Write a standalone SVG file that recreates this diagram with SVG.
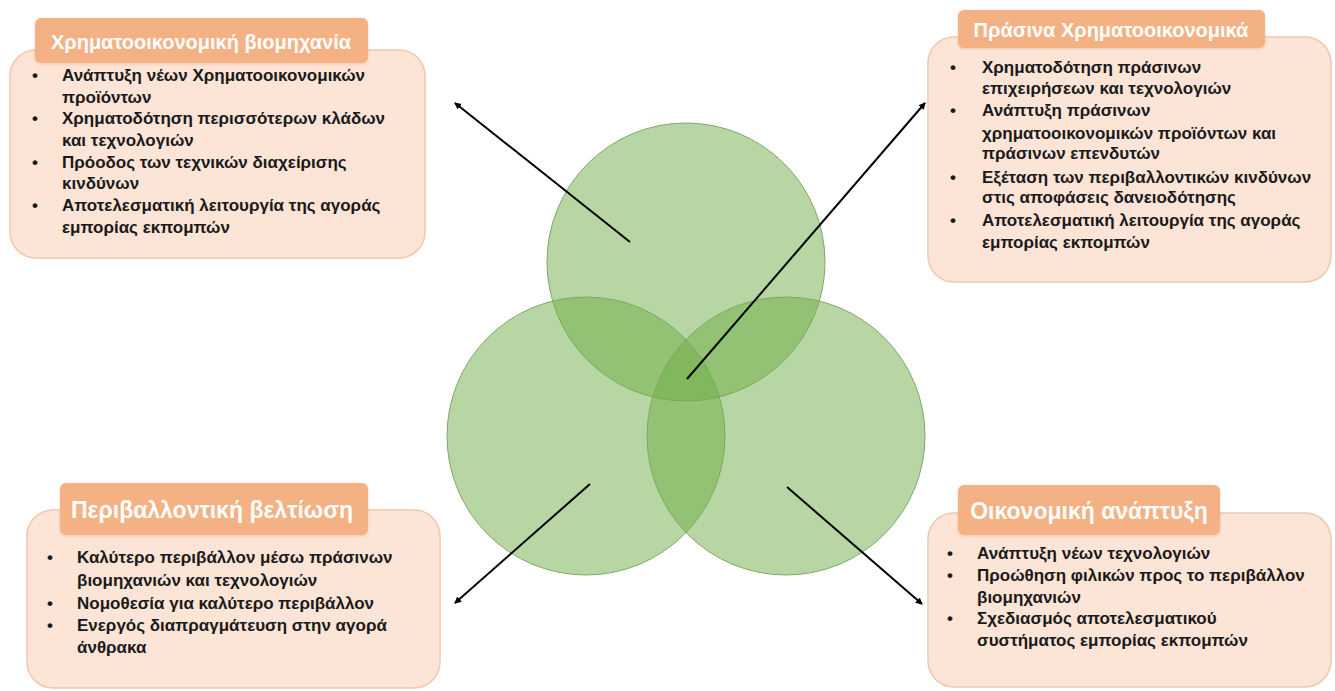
<svg xmlns="http://www.w3.org/2000/svg" width="1335" height="691" viewBox="0 0 1335 691">
<defs>
<style>
.body{fill:#FCE4D6;stroke:#F0C8AE;stroke-width:1.5}
.hdr{fill:#F4B183}
.ht{font-family:"Liberation Sans",Arial,sans-serif;fill:#ffffff;font-size:20px;font-weight:bold}
.hb{font-size:23px}
.t{font-family:"Liberation Sans",Arial,sans-serif;font-weight:bold;fill:#1a1a1a;font-size:17px}
.circ{fill:#70AD47;fill-opacity:0.5;stroke:#7FA866;stroke-width:1}
.arr{stroke:#000;stroke-width:2;fill:none;marker-end:url(#ah)}
</style>
<marker id="ah" markerWidth="8" markerHeight="8" refX="6" refY="4" orient="auto" markerUnits="userSpaceOnUse">
<path d="M0,0.5 L7,4 L0,7.5 z" fill="#000"/>
</marker>
<filter id="sh" x="-5%" y="-5%" width="110%" height="120%">
<feDropShadow dx="0" dy="1" stdDeviation="1.5" flood-color="#c98a5a" flood-opacity="0.35"/>
</filter>
</defs>
<rect width="1335" height="691" fill="#ffffff"/>

<g id="venn">
<circle class="circ" cx="686" cy="262" r="139"/>
<circle class="circ" cx="586" cy="436" r="139"/>
<circle class="circ" cx="786" cy="436" r="139"/>
</g>

<g id="box-tl">
<rect class="body" x="10" y="50" width="415" height="208" rx="26"/>
<rect class="hdr" x="35" y="18" width="333" height="45" rx="6" filter="url(#sh)"/>
<text class="ht" x="201" y="49" text-anchor="middle">Χρηματοοικονομική βιομηχανία</text>
<g class="t">
<text x="32" y="81">•</text><text x="62" y="81">Ανάπτυξη νέων Χρηματοοικονομικών</text>
<text x="62" y="103">προϊόντων</text>
<text x="32" y="124">•</text><text x="62" y="124">Χρηματοδότηση περισσότερων κλάδων</text>
<text x="62" y="146">και τεχνολογιών</text>
<text x="32" y="168">•</text><text x="62" y="168">Πρόοδος των τεχνικών διαχείρισης</text>
<text x="62" y="189">κινδύνων</text>
<text x="32" y="211">•</text><text x="62" y="211">Αποτελεσματική λειτουργία της αγοράς</text>
<text x="62" y="233">εμπορίας εκπομπών</text>
</g>
</g>

<g id="box-tr">
<rect class="body" x="928" y="37" width="403" height="245" rx="26"/>
<rect class="hdr" x="958" y="10" width="307" height="38" rx="6" filter="url(#sh)"/>
<text class="ht" x="1111" y="37" text-anchor="middle">Πράσινα Χρηματοοικονομικά</text>
<g class="t">
<text x="950" y="73">•</text><text x="982" y="73">Χρηματοδότηση πράσινων</text>
<text x="982" y="94">επιχειρήσεων και τεχνολογιών</text>
<text x="950" y="116">•</text><text x="982" y="116">Ανάπτυξη πράσινων</text>
<text x="982" y="139">χρηματοοικονομικών προϊόντων και</text>
<text x="982" y="159">πράσινων επενδυτών</text>
<text x="950" y="183">•</text><text x="982" y="183">Εξέταση των περιβαλλοντικών κινδύνων</text>
<text x="982" y="203">στις αποφάσεις δανειοδότησης</text>
<text x="950" y="226">•</text><text x="982" y="226">Αποτελεσματική λειτουργία της αγοράς</text>
<text x="982" y="248">εμπορίας εκπομπών</text>
</g>
</g>

<g id="box-bl">
<rect class="body" x="27" y="510" width="413" height="178" rx="26"/>
<rect class="hdr" x="60" y="483" width="308" height="52" rx="6" filter="url(#sh)"/>
<text class="ht hb" x="212" y="518" text-anchor="middle">Περιβαλλοντική βελτίωση</text>
<g class="t">
<text x="47" y="563">•</text><text x="77" y="563">Καλύτερο περιβάλλον μέσω πράσινων</text>
<text x="77" y="586">βιομηχανιών και τεχνολογιών</text>
<text x="47" y="609">•</text><text x="77" y="609">Νομοθεσία για καλύτερο περιβάλλον</text>
<text x="47" y="631">•</text><text x="77" y="631">Ενεργός διαπραγμάτευση στην αγορά</text>
<text x="77" y="653">άνθρακα</text>
</g>
</g>

<g id="box-br">
<rect class="body" x="928" y="513" width="403" height="174" rx="26"/>
<rect class="hdr" x="958" y="485" width="262" height="50" rx="6" filter="url(#sh)"/>
<text class="ht hb" x="1089" y="519" text-anchor="middle">Οικονομική ανάπτυξη</text>
<g class="t">
<text x="947" y="559">•</text><text x="977" y="559">Ανάπτυξη νέων τεχνολογιών</text>
<text x="947" y="581">•</text><text x="977" y="581">Προώθηση φιλικών προς το περιβάλλον</text>
<text x="977" y="603">βιομηχανιών</text>
<text x="947" y="624">•</text><text x="977" y="624">Σχεδιασμός αποτελεσματικού</text>
<text x="977" y="646">συστήματος εμπορίας εκπομπών</text>
</g>
</g>

<g id="connectors">
<line class="arr" x1="630" y1="242" x2="455" y2="103"/>
<line class="arr" x1="687" y1="379" x2="925" y2="103"/>
<line class="arr" x1="590" y1="484" x2="455" y2="603"/>
<line class="arr" x1="787" y1="487" x2="922" y2="604"/>
</g>
</svg>
